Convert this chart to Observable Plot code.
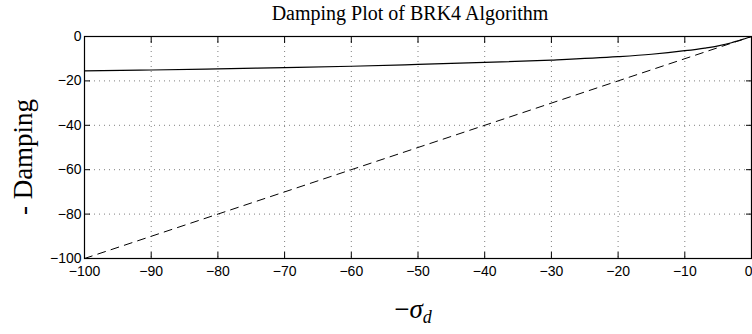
<!DOCTYPE html>
<html>
<head>
<meta charset="utf-8">
<script src="https://cdn.jsdelivr.net/npm/d3@7"></script>
<script src="https://cdn.jsdelivr.net/npm/@observablehq/plot@0.6"></script>
<style>
  html, body { margin: 0; padding: 0; background: #fff; }
  #chart { width: 752px; height: 334px; }
</style>
</head>
<body>
<div id="chart"></div>
<script>
const titleText = "Damping Plot of BRK4 Algorithm";
const yLabelText = "- Damping";
const xTicks = [-100, -90, -80, -70, -60, -50, -40, -30, -20, -10, 0];
const yTicks = [-100, -80, -60, -40, -20, 0];

// BRK4 damping curve
const sigma   = [-100, -90, -80, -70, -60, -50, -40, -30, -20, -15, -10, -7, -5, -3, -2, -1, 0];
const damping = [-15.5, -15.1, -14.6, -14.0, -13.4, -12.6, -11.7, -10.6, -9.1, -8.0, -6.4, -5.2, -4.2, -2.8, -1.9, -1.0, 0];

// Reference line (exact damping)
const refX = [-100, 0];
const refY = [-100, 0];

const curve = sigma.map((s, i) => ({x: s, y: damping[i]}));
const ref = refX.map((s, i) => ({x: s, y: refY[i]}));

const tickFont = "Liberation Sans, Arial, sans-serif";
const fmt = d => d === 0 ? "0" : "\u2212" + Math.abs(d);

const plot = Plot.plot({
  width: 752,
  height: 334,
  marginLeft: 84,
  marginRight: 1,
  marginTop: 36,
  marginBottom: 76,
  style: {fontFamily: tickFont, fontSize: "14px", background: "#fff", color: "#000"},
  x: {domain: [-100, 0]},
  y: {domain: [-100, 0]},
  marks: [
    Plot.gridX(xTicks.slice(1, -1), {stroke: "#000", strokeOpacity: 0.5, strokeDasharray: "1,4"}),
    Plot.gridY(yTicks.slice(1, -1), {stroke: "#000", strokeOpacity: 0.5, strokeDasharray: "1,4"}),
    Plot.axisX(xTicks, {anchor: "bottom", tickSize: -6, tickPadding: 14, label: null, fontSize: 14,
      tickFormat: d => d === 0 ? "" : fmt(d)}),
    Plot.text([0], {x: d => d, text: d => fmt(d), frameAnchor: "bottom", lineAnchor: "top",
      textAnchor: "end", dy: 8, dx: 1, fontSize: 14}),
    Plot.axisX(xTicks, {anchor: "top", tickSize: -6, tickFormat: () => "", label: null}),
    Plot.axisY(yTicks, {anchor: "left", tickSize: -6, tickPadding: 9, label: null, fontSize: 14, tickFormat: fmt}),
    Plot.axisY(yTicks, {anchor: "right", tickSize: -6, tickFormat: () => "", label: null}),
    Plot.line(ref, {x: "x", y: "y", stroke: "#000", strokeWidth: 1, strokeDasharray: "8,6"}),
    Plot.line(curve, {x: "x", y: "y", stroke: "#000", strokeWidth: 1.2, curve: "monotone-x"}),
    Plot.frame({stroke: "#000", strokeWidth: 1.2})
  ]
});

const svg = d3.select(plot);
svg.append("text")
  .attr("x", 410).attr("y", 20)
  .attr("text-anchor", "middle")
  .style("font-family", "Liberation Serif, Times New Roman, serif")
  .style("font-size", "20px")
  .attr("fill", "#000")
  .text(titleText);
svg.append("text")
  .attr("transform", "translate(32,157) rotate(-90)")
  .attr("text-anchor", "middle")
  .style("font-family", "Liberation Serif, Times New Roman, serif")
  .style("font-size", "27px")
  .attr("fill", "#000")
  .text(yLabelText);
const xl = svg.append("text")
  .attr("x", 413).attr("y", 318)
  .attr("text-anchor", "middle")
  .style("font-family", "Liberation Serif, Times New Roman, serif")
  .style("font-size", "27px")
  .attr("fill", "#000");
xl.append("tspan").text("\u2212");
xl.append("tspan").style("font-style", "italic").text("\u03C3");
xl.append("tspan").style("font-style", "italic").style("font-size", "18px").attr("dy", 5).text("d");

document.getElementById("chart").appendChild(plot);
</script>
</body>
</html>
